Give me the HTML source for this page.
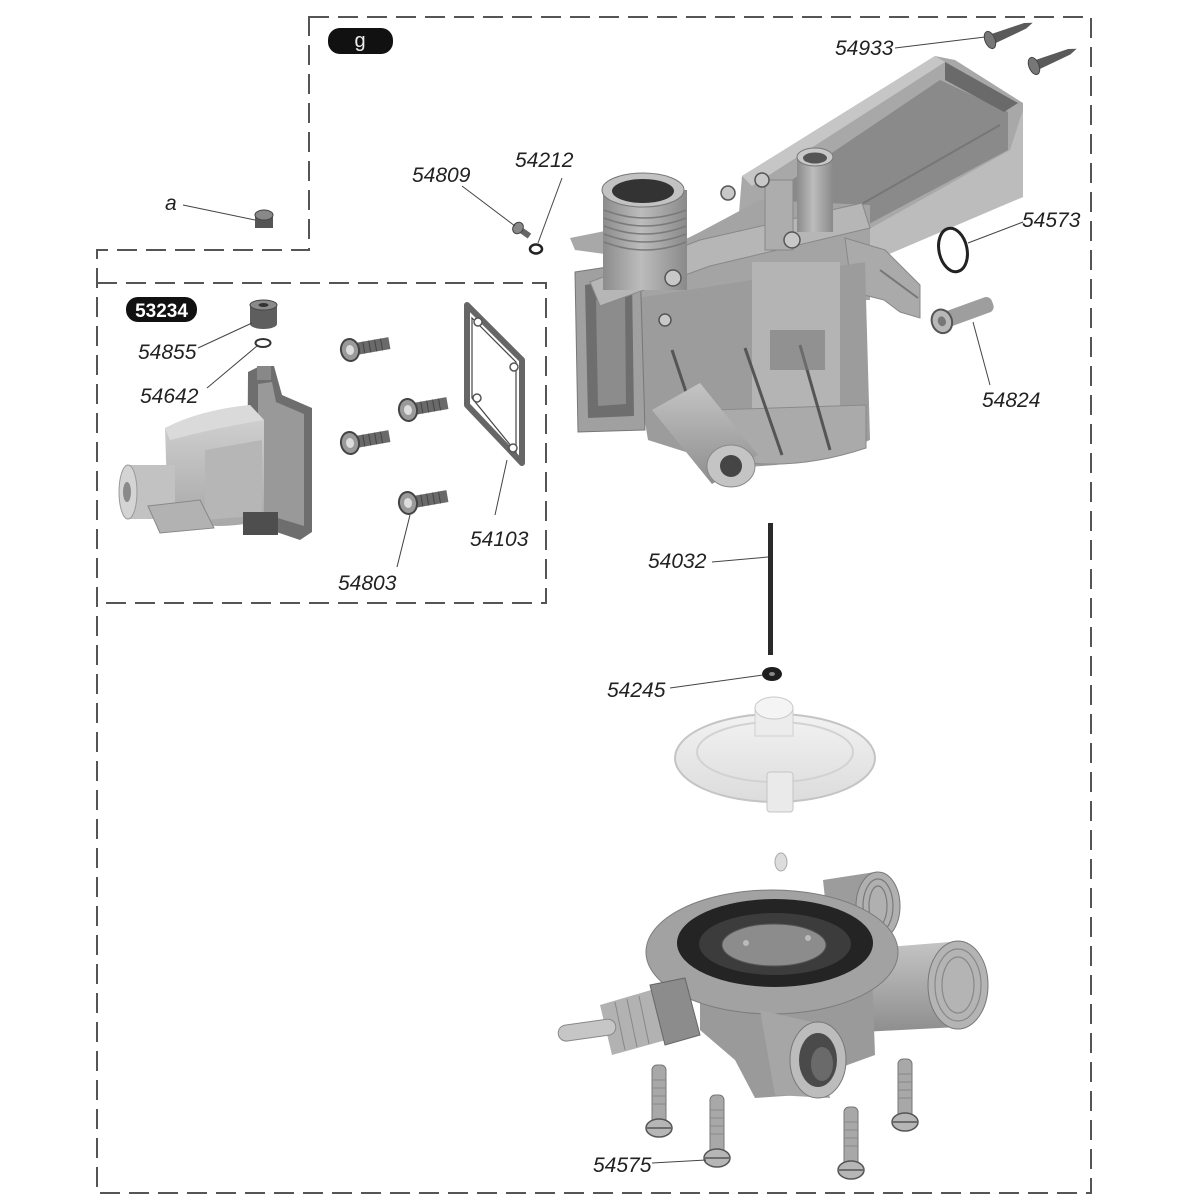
<!DOCTYPE html>
<html><head><meta charset="utf-8"><style>
html,body{margin:0;padding:0;background:#fff;}
svg{display:block;}
.lbl{font-family:"Liberation Sans",sans-serif;font-style:italic;font-size:21px;fill:#222;}
.ld{stroke:#444;stroke-width:1;fill:none;}
</style></head><body>
<svg width="1200" height="1200" viewBox="0 0 1200 1200" xmlns="http://www.w3.org/2000/svg">
<defs>
<linearGradient id="mH" x1="0" y1="0" x2="1" y2="0"><stop offset="0" stop-color="#8c8c8c"/><stop offset="0.45" stop-color="#bcbcbc"/><stop offset="1" stop-color="#8a8a8a"/></linearGradient>
<linearGradient id="mV" x1="0" y1="0" x2="0" y2="1"><stop offset="0" stop-color="#c4c4c4"/><stop offset="1" stop-color="#8e8e8e"/></linearGradient>
<linearGradient id="lt" x1="0" y1="0" x2="0" y2="1"><stop offset="0" stop-color="#f2f2f2"/><stop offset="1" stop-color="#dcdcdc"/></linearGradient>
<linearGradient id="sol" x1="0" y1="0" x2="0" y2="1"><stop offset="0" stop-color="#d4d4d4"/><stop offset="1" stop-color="#a8a8a8"/></linearGradient>
</defs>

<!-- dashed frames -->
<path d="M309,17 H1091 V1193 H97 V250 H309 Z" fill="none" stroke="#555" stroke-width="2" stroke-dasharray="20 9"/>
<path d="M97,283 H546 V603 H97" fill="none" stroke="#555" stroke-width="2" stroke-dasharray="20 9"/>

<!-- badges -->
<rect x="328" y="28" width="65" height="26" rx="12" fill="#111"/>
<text x="360" y="47" text-anchor="middle" font-family="Liberation Sans, sans-serif" font-size="20" fill="#eee">g</text>
<rect x="126" y="297" width="71" height="25" rx="12" fill="#111"/>
<text x="161.5" y="317" text-anchor="middle" font-family="Liberation Sans, sans-serif" font-size="19" font-weight="bold" fill="#fff">53234</text>

<!-- ============ MAIN BODY ============ -->
<g>
 <!-- arm -->
 <polygon points="742,176 935,56 955,60 1023,103 1023,197 960,222 870,258 820,285 760,300 735,262" fill="#a8a8a8"/>
 <polygon points="765,198 940,80 1008,112 1008,150 880,218 800,262 765,268" fill="#8a8a8a"/>
 <polygon points="945,62 1018,103 1004,112 945,80" fill="#6a6a6a"/>
 <polygon points="800,268 1010,150 1023,110 1023,197 880,258 830,285" fill="#bcbcbc"/>
 <polygon points="742,176 935,56 945,62 752,186" fill="#c6c6c6"/>
 <line x1="860" y1="205" x2="1000" y2="125" stroke="#777" stroke-width="2"/>
 <!-- filler behind rail -->
 <polygon points="600,282 700,232 760,200 870,205 870,300 640,305" fill="#a4a4a4"/>
 <!-- right flanges -->
 <polygon points="845,238 885,250 920,285 920,318 900,312 884,300 852,292" fill="#aaaaaa" stroke="#888" stroke-width="1"/>
 <line x1="880" y1="270" x2="918" y2="298" stroke="#777" stroke-width="2"/>
 <!-- main lower body -->
 <path d="M625,300 L865,262 L870,440 Q800,470 730,466 L648,440 Z" fill="#9c9c9c"/>
 <rect x="752" y="262" width="88" height="150" fill="#b4b4b4"/>
 <!-- base plate -->
 <path d="M712,410 L866,405 L866,448 Q800,470 740,462 Z" fill="#aaaaaa" stroke="#8a8a8a" stroke-width="1"/>
 <!-- ribs -->
 <line x1="672" y1="350" x2="707" y2="455" stroke="#555" stroke-width="3"/>
 <line x1="745" y1="348" x2="782" y2="455" stroke="#555" stroke-width="3"/>
 <line x1="800" y1="345" x2="830" y2="450" stroke="#555" stroke-width="3"/>
 <rect x="770" y="330" width="55" height="40" fill="#7a7a7a" opacity="0.6"/>
 <!-- left box -->
 <polygon points="575,272 640,262 645,430 578,432" fill="#a0a0a0" stroke="#777" stroke-width="1"/>
 <polygon points="585,285 632,278 634,416 588,418" fill="#6e6e6e"/>
 <polygon points="596,300 625,295 626,404 598,406" fill="#8c8c8c"/>
 <!-- rail -->
 <polygon points="590,282 700,240 862,203 870,228 710,266 600,306" fill="#b6b6b6" stroke="#888" stroke-width="1"/>
 <polygon points="570,238 610,230 612,255 575,250" fill="#a8a8a8"/>
 <!-- threaded pipe -->
 <rect x="603" y="190" width="84" height="100" fill="url(#mH)"/>
 <g stroke="#7a7a7a" stroke-width="1.5" fill="none">
  <path d="M604,210 Q645,226 686,210"/><path d="M604,218 Q645,234 686,218"/><path d="M604,226 Q645,242 686,226"/><path d="M604,234 Q645,250 686,234"/><path d="M604,242 Q645,258 686,242"/>
 </g>
 <ellipse cx="643" cy="190" rx="41" ry="17" fill="#c2c2c2" stroke="#777"/>
 <ellipse cx="643" cy="191" rx="31" ry="12" fill="#333"/>
 <!-- small pipe -->
 <rect x="797" y="157" width="36" height="75" fill="url(#mH)"/>
 <ellipse cx="815" cy="157" rx="18" ry="9" fill="#c8c8c8" stroke="#777"/>
 <ellipse cx="815" cy="158" rx="12" ry="5.5" fill="#555"/>
 <rect x="765" y="180" width="28" height="70" fill="#adadad" stroke="#888"/>
 <!-- rail screws -->
 <g fill="#c8c8c8" stroke="#555" stroke-width="1.5">
  <circle cx="673" cy="278" r="8"/><circle cx="792" cy="240" r="8"/><circle cx="762" cy="180" r="7"/><circle cx="728" cy="193" r="7"/><circle cx="665" cy="320" r="6"/>
 </g>
 <!-- outlet pipe -->
 <polygon points="652,410 700,383 758,455 712,484" fill="url(#mV)"/>
 <ellipse cx="731" cy="466" rx="24" ry="21" fill="#c4c4c4" stroke="#888"/>
 <circle cx="731" cy="466" r="11" fill="#454545"/>
</g>

<!-- screws 54933 -->
<g transform="translate(990,40) rotate(-22)">
 <path d="M4,-5 L38,-3 L46,0 L38,3 L4,5 Z" fill="#5a5a5a"/>
 <ellipse cx="0" cy="0" rx="5" ry="9" fill="#777" stroke="#444"/>
</g>
<g transform="translate(1034,66) rotate(-22)">
 <path d="M4,-5 L38,-3 L46,0 L38,3 L4,5 Z" fill="#5a5a5a"/>
 <ellipse cx="0" cy="0" rx="5" ry="9" fill="#777" stroke="#444"/>
</g>

<!-- o-ring 54573 -->
<ellipse cx="953" cy="250" rx="14" ry="22" transform="rotate(-12 953 250)" fill="none" stroke="#222" stroke-width="3"/>
<!-- screw 54824 -->
<g transform="translate(940,322) rotate(-20)">
 <rect x="4" y="-8" width="52" height="16" rx="6" fill="#9e9e9e"/>
 <ellipse cx="2" cy="0" rx="10" ry="12" fill="#b8b8b8" stroke="#555" stroke-width="2"/>
 <ellipse cx="2" cy="0" rx="4" ry="5" fill="#777"/>
</g>

<!-- 'a' nut -->
<rect x="255" y="215" width="18" height="13" fill="#555"/>
<ellipse cx="264" cy="215" rx="9" ry="5" fill="#888" stroke="#444"/>
<!-- 54809 screw -->
<g transform="translate(518,228) rotate(35)">
 <rect x="2" y="-3" width="12" height="6" fill="#666"/>
 <ellipse cx="0" cy="0" rx="5" ry="6" fill="#888" stroke="#444"/>
</g>
<!-- 54212 washer -->
<ellipse cx="536" cy="249" rx="6" ry="4.5" fill="none" stroke="#222" stroke-width="2.5"/>

<!-- ============ 53234 ASSEMBLY ============ -->
<rect x="250" y="305" width="27" height="19" fill="#5e5e5e"/>
<ellipse cx="263.5" cy="324" rx="13.5" ry="5" fill="#5e5e5e"/>
<ellipse cx="263.5" cy="305" rx="13.5" ry="5" fill="#8a8a8a" stroke="#444"/>
<ellipse cx="263.5" cy="305" rx="5" ry="2" fill="#333"/>
<ellipse cx="263" cy="343" rx="7.5" ry="4" fill="none" stroke="#333" stroke-width="2"/>
<polygon points="248,372 260,366 274,366 282,395 312,408 312,532 300,540 247,522" fill="#6e6e6e"/>
<polygon points="258,384 272,382 276,402 304,414 304,526 258,512" fill="#999"/>
<rect x="257" y="366" width="14" height="14" fill="#888"/>
<path d="M165,428 Q200,410 250,405 L264,420 L264,520 Q220,532 168,520 Z" fill="url(#sol)"/>
<path d="M165,428 Q200,410 250,405 L264,420 Q215,428 170,440 Z" fill="#dadada"/>
<path d="M205,450 L262,440 L262,515 L205,520 Z" fill="#b6b6b6"/>
<rect x="127" y="465" width="48" height="54" fill="#c2c2c2"/>
<ellipse cx="128" cy="492" rx="9" ry="27" fill="#d4d4d4" stroke="#999"/>
<ellipse cx="127" cy="492" rx="4" ry="10" fill="#8a8a8a"/>
<polygon points="148,506 200,500 214,528 160,533" fill="#b2b2b2" stroke="#888"/>
<rect x="243" y="512" width="35" height="23" fill="#4e4e4e"/>

<!-- screws 54803 -->
<g id="s1">
 <g transform="translate(350,350) rotate(-10)">
  <rect x="4" y="-6" width="36" height="12" fill="#6a6a6a"/>
  <g stroke="#444" stroke-width="1"><line x1="14" y1="-6" x2="14" y2="6"/><line x1="20" y1="-6" x2="20" y2="6"/><line x1="26" y1="-6" x2="26" y2="6"/><line x1="32" y1="-6" x2="32" y2="6"/></g>
  <ellipse cx="0" cy="0" rx="9" ry="11" fill="#9a9a9a" stroke="#444" stroke-width="2"/>
  <ellipse cx="0" cy="0" rx="4" ry="5" fill="#ddd"/>
 </g>
</g>
<use href="#s1" transform="translate(58,60)"/>
<use href="#s1" transform="translate(0,93)"/>
<use href="#s1" transform="translate(58,153)"/>

<!-- gasket 54103 -->
<polygon points="467,305 522,360 522,463 467,405" fill="#fff" stroke="#666" stroke-width="6" stroke-linejoin="round"/>
<polygon points="472,318 516,362 516,452 472,398" fill="none" stroke="#444" stroke-width="1.2"/>
<g fill="#fff" stroke="#555" stroke-width="1.5">
 <circle cx="478" cy="322" r="4"/><circle cx="514" cy="367" r="4"/><circle cx="477" cy="398" r="4"/><circle cx="513" cy="448" r="4"/>
</g>

<!-- ============ ROD, RING, COVER ============ -->
<rect x="768" y="523" width="5" height="132" fill="#2a2a2a"/>
<ellipse cx="772" cy="674" rx="10" ry="7" fill="#1e1e1e"/>
<ellipse cx="772" cy="674" rx="3" ry="2" fill="#888"/>
<ellipse cx="775" cy="758" rx="100" ry="44" fill="url(#lt)" stroke="#c4c4c4" stroke-width="2"/>
<ellipse cx="775" cy="752" rx="78" ry="30" fill="none" stroke="#d2d2d2" stroke-width="2"/>
<rect x="767" y="772" width="26" height="40" rx="3" fill="#eaeaea" stroke="#c4c4c4"/>
<rect x="755" y="708" width="38" height="28" fill="#ececec" stroke="#cfcfcf"/>
<ellipse cx="774" cy="708" rx="19" ry="11" fill="#f4f4f4" stroke="#c8c8c8"/>

<!-- ============ VALVE BODY ============ -->
<ellipse cx="781" cy="862" rx="6" ry="9" fill="#ddd" stroke="#aaa"/>
<polygon points="823,880 875,872 880,940 830,945" fill="#9c9c9c"/>
<ellipse cx="878" cy="906" rx="22" ry="34" fill="#b0b0b0" stroke="#777"/>
<g stroke="#7a7a7a" stroke-width="1.2" fill="none">
 <ellipse cx="878" cy="906" rx="15" ry="27"/><ellipse cx="878" cy="906" rx="9" ry="20"/>
</g>
<polygon points="850,950 950,942 958,1027 862,1032" fill="url(#mV)"/>
<ellipse cx="958" cy="985" rx="30" ry="44" fill="#b4b4b4" stroke="#777"/>
<g stroke="#888" stroke-width="1.2" fill="none">
 <ellipse cx="958" cy="985" rx="23" ry="36"/><ellipse cx="958" cy="985" rx="16" ry="28"/>
</g>
<path d="M700,975 L872,970 L875,1055 L820,1075 L800,1095 L755,1098 L735,1060 L700,1030 Z" fill="#9a9a9a"/>
<ellipse cx="772" cy="952" rx="126" ry="62" fill="#a2a2a2" stroke="#7c7c7c"/>
<ellipse cx="775" cy="943" rx="98" ry="44" fill="#242424"/>
<ellipse cx="775" cy="944" rx="76" ry="31" fill="#3c3c3c"/>
<ellipse cx="774" cy="945" rx="52" ry="21" fill="#8c8c8c" stroke="#555"/>
<circle cx="746" cy="943" r="3" fill="#bbb"/><circle cx="808" cy="938" r="3" fill="#bbb"/>
<polygon points="600,1005 668,985 684,1035 612,1055" fill="#b2b2b2"/>
<g stroke="#888" stroke-width="1"><line x1="615" y1="1002" x2="625" y2="1050"/><line x1="627" y1="999" x2="637" y2="1047"/><line x1="639" y1="996" x2="649" y2="1044"/></g>
<polygon points="650,985 685,978 700,1035 665,1045" fill="#8c8c8c" stroke="#666"/>
<rect x="558" y="1022" width="58" height="16" rx="8" transform="rotate(-8 588 1030)" fill="#c6c6c6" stroke="#888"/>
<polygon points="760,1010 812,1022 830,1098 775,1095" fill="#a6a6a6"/>
<ellipse cx="818" cy="1060" rx="28" ry="38" fill="#bcbcbc" stroke="#777"/>
<ellipse cx="818" cy="1060" rx="19" ry="27" fill="#4a4a4a"/>
<ellipse cx="822" cy="1064" rx="11" ry="17" fill="#6a6a6a"/>

<!-- screws 54575 -->
<g id="v1">
 <rect x="652" y="1065" width="14" height="60" rx="5" fill="#a8a8a8" stroke="#777"/>
 <g stroke="#888" stroke-width="1"><line x1="652" y1="1080" x2="666" y2="1080"/><line x1="652" y1="1088" x2="666" y2="1088"/><line x1="652" y1="1096" x2="666" y2="1096"/><line x1="652" y1="1104" x2="666" y2="1104"/></g>
 <ellipse cx="659" cy="1128" rx="13" ry="9" fill="#b6b6b6" stroke="#555" stroke-width="1.5"/>
 <line x1="647" y1="1128" x2="671" y2="1128" stroke="#555" stroke-width="1.5"/>
</g>
<use href="#v1" transform="translate(58,30)"/>
<use href="#v1" transform="translate(192,42)"/>
<use href="#v1" transform="translate(246,-6)"/>

<!-- ============ LABELS & LEADERS ============ -->
<g class="ld">
 <line x1="895" y1="48" x2="985" y2="37"/>
 <line x1="183" y1="205" x2="255" y2="220"/>
 <line x1="462" y1="186" x2="515" y2="226"/>
 <line x1="562" y1="178" x2="538" y2="243"/>
 <line x1="1023" y1="222" x2="968" y2="243"/>
 <line x1="990" y1="385" x2="973" y2="322"/>
 <line x1="198" y1="348" x2="252" y2="323"/>
 <line x1="207" y1="388" x2="257" y2="346"/>
 <line x1="495" y1="515" x2="507" y2="460"/>
 <line x1="397" y1="567" x2="410" y2="515"/>
 <line x1="712" y1="562" x2="768" y2="557"/>
 <line x1="670" y1="688" x2="763" y2="675"/>
 <line x1="652" y1="1163" x2="706" y2="1160"/>
</g>
<text class="lbl" x="835" y="55">54933</text>
<text class="lbl" x="165" y="210">a</text>
<text class="lbl" x="412" y="182">54809</text>
<text class="lbl" x="515" y="167">54212</text>
<text class="lbl" x="1022" y="227">54573</text>
<text class="lbl" x="982" y="407">54824</text>
<text class="lbl" x="138" y="359">54855</text>
<text class="lbl" x="140" y="403">54642</text>
<text class="lbl" x="470" y="546">54103</text>
<text class="lbl" x="338" y="590">54803</text>
<text class="lbl" x="648" y="568">54032</text>
<text class="lbl" x="607" y="697">54245</text>
<text class="lbl" x="593" y="1172">54575</text>
</svg>
</body></html>
